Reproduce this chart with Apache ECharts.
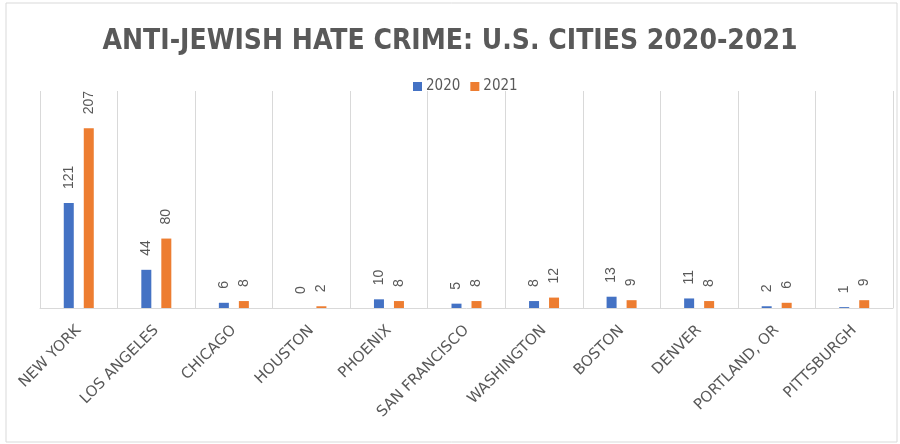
<!DOCTYPE html>
<html>
<head>
<meta charset="utf-8">
<script src="https://cdn.jsdelivr.net/npm/echarts@6/dist/echarts.min.js"></script>
<style>
  html, body { margin: 0; padding: 0; background: #fff; }
  #chart { width: 900px; height: 444px; }
</style>
</head>
<body>
<div id="chart"></div>
<script>
const cities = ['NEW YORK', 'LOS ANGELES', 'CHICAGO', 'HOUSTON', 'PHOENIX', 'SAN FRANCISCO', 'WASHINGTON', 'BOSTON', 'DENVER', 'PORTLAND, OR', 'PITTSBURGH']
const crimes2020 = [121, 44, 6, 0, 10, 5, 8, 13, 11, 2, 1]
const crimes2021 = [207, 80, 8, 2, 8, 8, 12, 9, 8, 6, 9]

const grey = '#595959'
const narrow = '"Liberation Sans Narrow", "DejaVu Sans Condensed", "Liberation Sans", sans-serif'

const chart = echarts.init(document.getElementById('chart'))

function dataLabel() {
  return {
    show: true,
    position: 'top',
    rotate: 90,
    align: 'left',
    verticalAlign: 'middle',
    distance: 14,
    color: grey,
    fontSize: 14,
    fontFamily: '"Liberation Sans", sans-serif'
  }
}

chart.setOption({
  animation: false,
  title: {
    text: 'ANTI-JEWISH HATE CRIME: U.S. CITIES 2020-2021',
    left: 'center',
    top: 23,
    textStyle: {
      color: grey,
      fontSize: 28,
      fontWeight: 'bold',
      fontFamily: narrow
    }
  },
  legend: {
    data: ['2020', '2021'],
    left: 408,
    top: 74,
    itemWidth: 9,
    itemHeight: 9,
    itemGap: 10,
    icon: 'rect',
    textStyle: { color: grey, fontSize: 15, fontFamily: narrow, padding: [0, 0, 0, -1] }
  },
  graphic: [{
    type: 'rect',
    shape: { x: 6, y: 3, width: 891, height: 439 },
    style: { fill: 'none', stroke: '#d9d9d9', lineWidth: 1 },
    silent: true
  }],
  grid: { left: 40, right: 7, top: 91, bottom: 136 },
  xAxis: {
    type: 'category',
    data: cities,
    axisLine: { lineStyle: { color: '#d9d9d9' } },
    axisTick: { show: false },
    splitLine: { show: true, lineStyle: { color: '#d9d9d9' } },
    axisLabel: {
      interval: 0,
      rotate: 45,
      margin: 20,
      color: grey,
      fontSize: 15,
      fontFamily: '"DejaVu Sans", sans-serif'
    }
  },
  yAxis: {
    type: 'value',
    min: 0,
    max: 250,
    show: false,
    splitLine: { show: false }
  },
  series: [{
    name: '2020',
    type: 'bar',
    data: crimes2020,
    barWidth: 10,
    barGap: '100%',
    itemStyle: { color: '#4472c4' },
    label: dataLabel()
  }, {
    name: '2021',
    type: 'bar',
    data: crimes2021,
    barWidth: 10,
    itemStyle: { color: '#ed7d31' },
    label: dataLabel()
  }]
})
</script>
</body>
</html>
